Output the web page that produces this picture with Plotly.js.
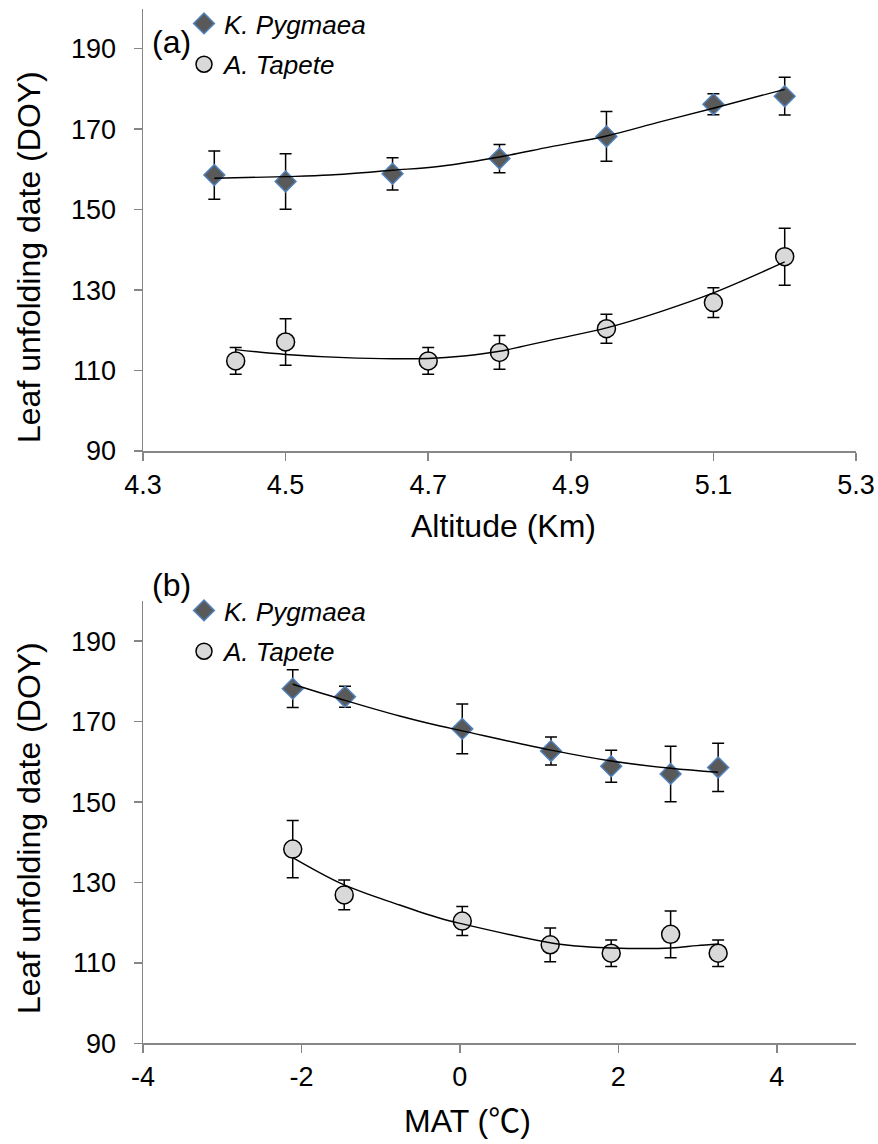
<!DOCTYPE html>
<html>
<head>
<meta charset="utf-8">
<script src="https://cdn.plot.ly/plotly-3.0.1.min.js"></script>
<style>html,body{margin:0;padding:0;background:#fff;}#chart{width:878px;height:1144px;}</style>
</head>
<body>
<div id="chart"></div>
<script>
// ---- Data ----
// Panel (a): leaf unfolding date vs altitude
var altK = [4.4, 4.5, 4.65, 4.8, 4.95, 5.1, 5.2];
var doyK = [158.6, 157.0, 158.9, 162.7, 168.2, 176.2, 178.2];
var errK = [6.0, 6.9, 4.0, 3.5, 6.2, 2.6, 4.7];

var altA = [4.43, 4.5, 4.7, 4.8, 4.95, 5.1, 5.2];
var doyA = [112.4, 117.1, 112.4, 114.5, 120.4, 126.9, 138.3];
var errA = [3.3, 5.8, 3.3, 4.2, 3.6, 3.7, 7.1];

// Panel (b): same observations vs mean annual temperature
var matK = [3.26, 2.66, 1.91, 1.15, 0.03, -1.45, -2.11];
var matA = [3.26, 2.66, 1.91, 1.14, 0.03, -1.46, -2.11];

// Trend lines
var trendAltKx = [4.4, 4.5, 4.562, 4.65, 4.717, 4.8, 4.871, 4.95, 5.025, 5.1, 5.2];
var trendAltKy = [157.8, 158.2, 158.6, 159.8, 160.8, 163.1, 165.6, 168.3, 171.8, 175.2, 179.9];
var trendAltAx = [4.43, 4.5, 4.6, 4.7, 4.75, 4.8, 4.875, 4.95, 5.025, 5.1, 5.2];
var trendAltAy = [115.2, 114.0, 113.1, 113.0, 113.6, 114.8, 117.7, 120.6, 124.6, 129.3, 137.0];
var trendMatKx = [-2.11, -1.45, -0.76, -0.25, 0.03, 1.15, 1.91, 2.66, 3.26];
var trendMatKy = [179.3, 175.3, 171.4, 168.9, 167.7, 162.9, 160.2, 158.4, 157.4];
var trendMatAx = [-2.11, -1.46, -0.76, -0.25, 0.03, 1.14, 1.47, 1.91, 2.66, 2.99, 3.26];
var trendMatAy = [136.2, 129.4, 124.4, 121.1, 119.7, 115.0, 114.2, 113.7, 113.7, 114.3, 114.7];

var altTicks = [4.3, 4.5, 4.7, 4.9, 5.1, 5.3];
var altTickText = ['4.3', '4.5', '4.7', '4.9', '5.1', '5.3'];
var matTicks = [-4, -2, 0, 2, 4];
var matTickText = ['-4', '-2', '0', '2', '4'];
var doyTicks = [90, 110, 130, 150, 170, 190];

var nameK = 'K. Pygmaea';
var nameA = 'A. Tapete';
var panelLabels = ['(a)', '(b)'];
var xTitles = ['Altitude (Km)', 'MAT (\u2103)'];
var yTitle = 'Leaf unfolding date (DOY)';

// ---- Styles ----
var FONT = '"Liberation Sans", Arial, "Noto Sans CJK SC", sans-serif';
var W = 878, H = 1144;
function px(x) { return x / W; }
function py(y) { return 1 - y / H; }

var kMarker = {symbol: 'diamond', size: 16, color: '#595959', line: {color: '#4f81bd', width: 1.5}};
var aMarker = {symbol: 'circle', size: 18, color: '#d9d9d9', line: {color: '#000000', width: 1.5}};
function eb(arr) { return {type: 'data', array: arr, visible: true, color: '#000', thickness: 1.5, width: 6}; }
var trendLine = {color: '#000', width: 1.4, shape: 'spline'};

var traces = [
  {x: altK, y: doyK, type: 'scatter', mode: 'markers', name: nameK, marker: kMarker, error_y: eb(errK), xaxis: 'x', yaxis: 'y', legend: 'legend', legendgroup: 'k1'},
  {x: altA, y: doyA, type: 'scatter', mode: 'markers', name: nameA, marker: aMarker, error_y: eb(errA), xaxis: 'x', yaxis: 'y', legend: 'legend', legendgroup: 'a1'},
  {x: trendAltKx, y: trendAltKy, type: 'scatter', mode: 'lines', line: trendLine, showlegend: false, xaxis: 'x', yaxis: 'y', hoverinfo: 'skip'},
  {x: trendAltAx, y: trendAltAy, type: 'scatter', mode: 'lines', line: trendLine, showlegend: false, xaxis: 'x', yaxis: 'y', hoverinfo: 'skip'},
  {x: matK, y: doyK, type: 'scatter', mode: 'markers', name: nameK, marker: kMarker, error_y: eb(errK), xaxis: 'x2', yaxis: 'y2', legend: 'legend2', legendgroup: 'k2'},
  {x: matA, y: doyA, type: 'scatter', mode: 'markers', name: nameA, marker: aMarker, error_y: eb(errA), xaxis: 'x2', yaxis: 'y2', legend: 'legend2', legendgroup: 'a2'},
  {x: trendMatKx, y: trendMatKy, type: 'scatter', mode: 'lines', line: trendLine, showlegend: false, xaxis: 'x2', yaxis: 'y2', hoverinfo: 'skip'},
  {x: trendMatAx, y: trendMatAy, type: 'scatter', mode: 'lines', line: trendLine, showlegend: false, xaxis: 'x2', yaxis: 'y2', hoverinfo: 'skip'}
];

var axisCommon = {
  showgrid: false, zeroline: false, showline: true, linecolor: '#868686', linewidth: 1.5,
  ticks: 'outside', ticklen: 8, tickwidth: 1.5, tickcolor: '#868686',
  tickfont: {family: FONT, size: 27, color: '#000'}, fixedrange: true
};
function ax(extra) { var o = {}; for (var k in axisCommon) o[k] = axisCommon[k]; for (var k2 in extra) o[k2] = extra[k2]; return o; }

var xDom = [px(143), px(856)];
var legendFont = {family: FONT, size: 26, color: '#000', style: 'italic'};

var layout = {
  width: W, height: H,
  margin: {l: 0, r: 0, t: 0, b: 0},
  paper_bgcolor: '#fff', plot_bgcolor: 'rgba(0,0,0,0)',
  showlegend: true,
  xaxis: ax({domain: xDom, range: [4.3, 5.3], tickmode: 'array', tickvals: altTicks, ticktext: altTickText, anchor: 'y', ticklabelstandoff: 1}),
  yaxis: ax({domain: [py(451), py(8.5)], range: [90, 200], tickmode: 'array', tickvals: doyTicks, anchor: 'x', ticklabelstandoff: 12}),
  xaxis2: ax({domain: xDom, range: [-4, 5], tickmode: 'array', tickvals: matTicks, ticktext: matTickText, anchor: 'y2', ticklabelstandoff: 1}),
  yaxis2: ax({domain: [py(1043.3), py(601)], range: [90, 200], tickmode: 'array', tickvals: doyTicks, anchor: 'x2', ticklabelstandoff: 12}),
  legend: {x: px(184), y: py(0), xanchor: 'left', yanchor: 'top', bgcolor: 'rgba(0,0,0,0)', borderwidth: 0,
           font: legendFont, traceorder: 'grouped', tracegroupgap: 4, itemwidth: 30},
  legend2: {x: px(184), y: py(587), xanchor: 'left', yanchor: 'top', bgcolor: 'rgba(0,0,0,0)', borderwidth: 0,
           font: legendFont, traceorder: 'grouped', tracegroupgap: 4, itemwidth: 30},
  annotations: [
    {text: panelLabels[0], xref: 'paper', yref: 'paper', x: px(150), y: py(42), xanchor: 'left', yanchor: 'middle', showarrow: false, font: {family: FONT, size: 32, color: '#000'}},
    {text: panelLabels[1], xref: 'paper', yref: 'paper', x: px(150), y: py(585), xanchor: 'left', yanchor: 'middle', showarrow: false, font: {family: FONT, size: 32, color: '#000'}},
    {text: xTitles[0], xref: 'paper', yref: 'paper', x: px(503), y: py(526), xanchor: 'center', yanchor: 'middle', showarrow: false, font: {family: FONT, size: 32, color: '#000'}},
    {text: xTitles[1], xref: 'paper', yref: 'paper', x: px(467), y: py(1121), xanchor: 'center', yanchor: 'middle', showarrow: false, font: {family: FONT, size: 32, color: '#000'}},
    {text: yTitle, xref: 'paper', yref: 'paper', x: px(29), y: py(257), xanchor: 'center', yanchor: 'middle', textangle: -90, showarrow: false, font: {family: FONT, size: 32, color: '#000'}},
    {text: yTitle, xref: 'paper', yref: 'paper', x: px(29), y: py(828), xanchor: 'center', yanchor: 'middle', textangle: -90, showarrow: false, font: {family: FONT, size: 32, color: '#000'}}
  ]
};

Plotly.newPlot('chart', traces, layout, {staticPlot: true, displayModeBar: false});
</script>
</body>
</html>
